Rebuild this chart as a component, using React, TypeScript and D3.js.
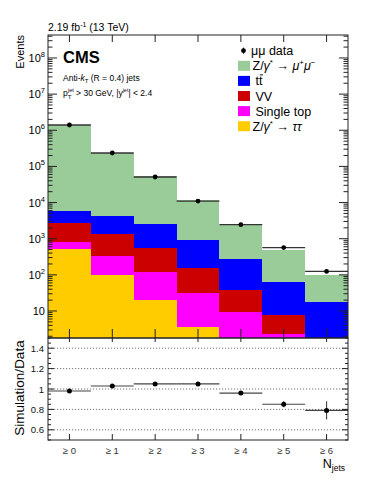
import React from 'react';
import * as d3 from 'd3';

// ---------- data ----------
const categories = ['≥ 0', '≥ 1', '≥ 2', '≥ 3', '≥ 4', '≥ 5', '≥ 6'];
const dataValues = [1.40e6, 2.35e5, 5.1e4, 1.1e4, 2.45e3, 570, 124];
const zmumu = [1.364e6, 2.377e5, 5.1e4, 1.065e4, 2130, 420, 81];
const ttbar = [3200, 2880, 1930, 794, 233, 57, 16.5];
const vv = [1870, 1040, 453, 120, 28, 5.3, 1.0];
const singleTop = [305, 244, 97, 28, 8.6, 2.0, 0.5];
const ztautau = [525, 96, 19.6, 3.5, 0.8, 0.3, 0.1];
const ratioValues = [0.98, 1.03, 1.05, 1.05, 0.96, 0.85, 0.79];
const ratioErrors = [0.004, 0.005, 0.007, 0.01, 0.02, 0.03, 0.09];
const ratioTicks = [0.6, 0.8, 1, 1.2, 1.4];
const logDecades = [1, 2, 3, 4, 5, 6, 7, 8];

const FONT = '"Liberation Sans", Arial, Helvetica, sans-serif';

const layers = [
  { key: 'ztautau', values: ztautau, color: '#ffcc00' },
  { key: 'singletop', values: singleTop, color: '#ff00ff' },
  { key: 'vv', values: vv, color: '#cc0000' },
  { key: 'ttbar', values: ttbar, color: '#0000ff' },
  { key: 'zmumu', values: zmumu, color: '#99cc99' },
];

export default function App() {
  const W = 374, H = 484;
  const L = 48, R = 348, T = 35, MB = 338, RB = 440;

  const x = d3.scaleLinear().domain([0, categories.length]).range([L, R]);
  const y = d3.scaleLog().domain([1.79, 4.32e8]).range([MB, T]).clamp(true);
  const yr = d3.scaleLinear().domain([0.5, 1.5]).range([RB, MB]);

  const table = categories.map((c, i) => {
    const row: any = { i };
    layers.forEach((l) => (row[l.key] = l.values[i]));
    return row;
  });
  const stacked = d3.stack().keys(layers.map((l) => l.key))(table as any);

  const frameColor = '#222';

  const majorTicks = logDecades.map((k) => Math.pow(10, k));
  const minorTicks: number[] = [];
  for (let k = 0; k <= 8; k++) {
    for (let m = 2; m <= 9; m++) {
      const v = m * Math.pow(10, k);
      if (v > y.domain()[0] && v < y.domain()[1]) minorTicks.push(v);
    }
  }
  const ratioMinor = d3.range(0.5, 1.5001, 0.05).map((v) => +v.toFixed(2));

  const legendRows = [
    { type: 'data' },
    { type: 'box', color: '#99cc99', label: 'zmumu' },
    { type: 'box', color: '#0000ff', label: 'tt' },
    { type: 'box', color: '#cc0000', label: 'VV' },
    { type: 'box', color: '#ff00ff', label: 'Single top' },
    { type: 'box', color: '#ffcc00', label: 'ztautau' },
  ];
  const legY0 = 50.7, legDy = 15.1;

  const renderLegendLabel = (label: string, tx: number, ty: number) => {
    const fs = 12.5;
    if (label === 'zmumu') {
      return (
        <text x={tx} y={ty} fontSize={fs} fontFamily={FONT}>
          Z/<tspan fontStyle="italic">γ</tspan>
          <tspan fontSize={8} dy={-5}>*</tspan>
          <tspan dy={5}> → </tspan>
          <tspan fontStyle="italic">μ</tspan>
          <tspan fontSize={8} dy={-5}>+</tspan>
          <tspan dy={5} fontStyle="italic">μ</tspan>
          <tspan fontSize={8} dy={-5}>−</tspan>
        </text>
      );
    }
    if (label === 'ztautau') {
      return (
        <text x={tx} y={ty} fontSize={fs} fontFamily={FONT}>
          Z/<tspan fontStyle="italic">γ</tspan>
          <tspan fontSize={8} dy={-5}>*</tspan>
          <tspan dy={5}> → </tspan>
          <tspan fontStyle="italic">ττ</tspan>
        </text>
      );
    }
    if (label === 'tt') {
      return (
        <g>
          <text x={tx + 3} y={ty} fontSize={fs} fontFamily={FONT}>tt</text>
          <line x1={tx + 7.2} x2={tx + 10.6} y1={ty - 10.5} y2={ty - 10.5} stroke="#000" strokeWidth={0.9} />
        </g>
      );
    }
    return (
      <text x={tx + 3} y={ty} fontSize={fs} fontFamily={FONT}>{label}</text>
    );
  };

  return (
    <svg width={W} height={H} style={{ position: 'absolute', left: 0, top: 0, background: '#fff' }}>
      <defs>
        <clipPath id="mainClip">
          <rect x={L} y={T} width={R - L} height={MB - T} />
        </clipPath>
      </defs>
      <rect x={0} y={0} width={W} height={H} fill="#fff" />

      {/* stacked histograms */}
      <g clipPath="url(#mainClip)">
        {stacked.map((s, li) => (
          <g key={layers[li].key}>
            {s.map((d, i) => (
              <rect
                key={i}
                x={x(i)}
                width={x(i + 1) - x(i)}
                y={y(Math.max(d[1], 0.01))}
                height={Math.max(0, y(Math.max(d[0], 0.01)) - y(Math.max(d[1], 0.01)))}
                fill={layers[li].color}
                shapeRendering="crispEdges"
              />
            ))}
          </g>
        ))}
      </g>

      {/* data in main panel */}
      {dataValues.map((v, i) => (
        <g key={i}>
          <line x1={x(i)} x2={x(i + 1)} y1={y(v)} y2={y(v)} stroke="#333" strokeWidth={1.3} />
          <circle cx={x(i + 0.5)} cy={y(v)} r={2.4} fill="#000" />
        </g>
      ))}

      {/* ratio grid */}
      {ratioTicks.map((t) => (
        <line key={t} x1={L} x2={R} y1={yr(t)} y2={yr(t)} stroke="#666" strokeWidth={0.9} strokeDasharray="1.2,1.8" />
      ))}
      {ratioValues.map((v, i) => (
        <g key={i}>
          <line x1={x(i)} x2={x(i + 1)} y1={yr(v)} y2={yr(v)} stroke="#444" strokeWidth={1.1} />
          <line x1={x(i + 0.5)} x2={x(i + 0.5)} y1={yr(v - ratioErrors[i])} y2={yr(v + ratioErrors[i])} stroke="#444" strokeWidth={1.1} />
          <circle cx={x(i + 0.5)} cy={yr(v)} r={2.5} fill="#000" />
        </g>
      ))}

      {/* frames */}
      <rect x={L} y={T} width={R - L} height={MB - T} fill="none" stroke={frameColor} strokeWidth={1} />
      <rect x={L} y={MB} width={R - L} height={RB - MB} fill="none" stroke={frameColor} strokeWidth={1} />

      {/* ticks */}
      <g stroke={frameColor} strokeWidth={1}>
        {majorTicks.map((t) => (
          <g key={'M' + t}>
            <line x1={L} x2={L + 9} y1={y(t)} y2={y(t)} />
            <line x1={R} x2={R - 9} y1={y(t)} y2={y(t)} />
          </g>
        ))}
        {minorTicks.map((t) => (
          <g key={'m' + t}>
            <line x1={L} x2={L + 4.5} y1={y(t)} y2={y(t)} />
            <line x1={R} x2={R - 4.5} y1={y(t)} y2={y(t)} />
          </g>
        ))}
        {categories.map((c, i) => (
          <g key={c}>
            <line x1={x(i + 0.5)} x2={x(i + 0.5)} y1={T} y2={T + 7} />
            <line x1={x(i + 0.5)} x2={x(i + 0.5)} y1={MB} y2={MB - 9} />
            <line x1={x(i + 0.5)} x2={x(i + 0.5)} y1={RB} y2={RB - 6} />
            <line x1={x(i + 0.5)} x2={x(i + 0.5)} y1={MB} y2={MB + 4} />
          </g>
        ))}
        {ratioMinor.map((t) => {
          const major = ratioTicks.some((r) => Math.abs(r - t) < 1e-6);
          const len = major ? 6 : 3;
          return (
            <g key={'r' + t}>
              <line x1={L} x2={L + len} y1={yr(t)} y2={yr(t)} />
              <line x1={R} x2={R - len} y1={yr(t)} y2={yr(t)} />
            </g>
          );
        })}
      </g>

      {/* y tick labels main */}
      {majorTicks.map((t, k) => {
        const exp = logDecades[k];
        const yy = y(t) + 4;
        if (exp === 1) {
          return (
            <text key={t} x={45} y={yy} textAnchor="end" fontSize={11} fontFamily={FONT}>10</text>
          );
        }
        return (
          <text key={t} x={45} y={yy} textAnchor="end" fontSize={11} fontFamily={FONT}>
            10<tspan fontSize={7.5} dy={-5}>{exp}</tspan>
          </text>
        );
      })}

      {/* ratio tick labels */}
      {ratioTicks.map((t) => (
        <text key={t} x={44} y={yr(t) + 3.5} textAnchor="end" fontSize={9.5} fontFamily={FONT} fill="#111">
          {d3.format('~g')(t)}
        </text>
      ))}

      {/* x tick labels */}
      {categories.map((c, i) => (
        <text key={c} x={x(i + 0.5)} y={453.5} textAnchor="middle" fontSize={9.5} fontFamily={FONT} fill="#333">
          {c}
        </text>
      ))}

      {/* axis titles */}
      <text x={345} y={468} textAnchor="end" fontSize={12.5} fontFamily={FONT}>
        N<tspan fontSize={8.5} dy={3}>jets</tspan>
      </text>
      <text transform="translate(24,35) rotate(-90)" textAnchor="end" fontSize={11} fontFamily={FONT}>Events</text>
      <text transform="translate(23.5,388) rotate(-90)" textAnchor="middle" fontSize={13.5} fontFamily={FONT}>Simulation/Data</text>

      {/* header */}
      <text x={48} y={31} fontSize={10.5} fontFamily={FONT}>
        2.19 fb<tspan fontSize={7} dy={-4}>-1</tspan>
        <tspan dy={4}> (13 TeV)</tspan>
      </text>
      <text x={63} y={63} fontSize={16.5} fontWeight="bold" fontFamily={FONT}>CMS</text>
      <text x={63} y={80.5} fontSize={8.5} fontFamily={FONT}>
        Anti-<tspan fontStyle="italic">k</tspan>
        <tspan fontSize={6} dy={2}>T</tspan>
        <tspan dy={-2}> (R = 0.4) jets</tspan>
      </text>
      <text x={63} y={96} fontSize={8.5} fontFamily={FONT}>
        p<tspan fontSize={6} dy={2.5}>T</tspan>
        <tspan fontSize={5.5} dx={-3.5} dy={-7}>jet</tspan>
        <tspan dy={4.5}> &gt; 30 GeV,  |y</tspan>
        <tspan fontSize={5.5} dy={-4}>jet</tspan>
        <tspan dy={4}>| &lt; 2.4</tspan>
      </text>

      {/* legend */}
      {legendRows.map((r, i) => {
        const cy = legY0 + i * legDy;
        if (r.type === 'data') {
          return (
            <g key={i}>
              <line x1={243.5} x2={243.5} y1={cy - 3} y2={cy + 3} stroke="#000" strokeWidth={1} />
              <circle cx={243.5} cy={cy} r={2.4} fill="#000" />
              <text x={251} y={cy + 4.5} fontSize={12.5} fontFamily={FONT}>μμ data</text>
            </g>
          );
        }
        return (
          <g key={i}>
            <rect x={238} y={cy - 5} width={12} height={10} fill={r.color} />
            {renderLegendLabel(r.label as string, 252.5, cy + 4.5)}
          </g>
        );
      })}
    </svg>
  );
}
